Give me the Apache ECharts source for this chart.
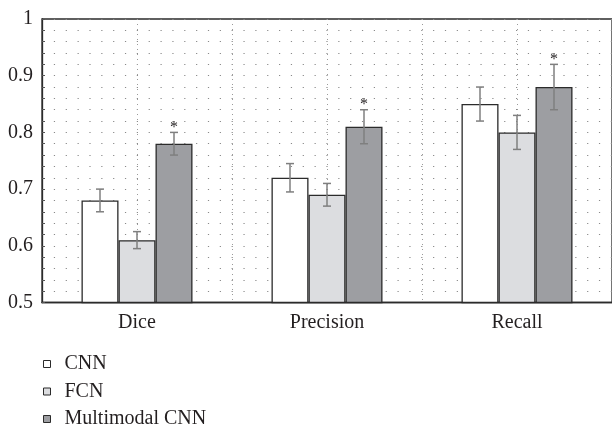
<!DOCTYPE html>
<html>
<head>
<meta charset="utf-8">
<script src="https://cdn.jsdelivr.net/npm/echarts@6/dist/echarts.min.js"></script>
<style>
html,body{margin:0;padding:0;background:#fff;}
#chart{width:612px;height:430px;}
</style>
</head>
<body>
<div id="chart"></div>
<script>
// ---- data ----
const categories = ['Dice', 'Precision', 'Recall'];
const seriesNames = ['CNN', 'FCN', 'Multimodal CNN'];
const cnnValues = [0.68, 0.72, 0.85];
const fcnValues = [0.61, 0.69, 0.80];
const mcnnValues = [0.78, 0.81, 0.88];
const cnnErrors = [0.02, 0.025, 0.03];
const fcnErrors = [0.015, 0.02, 0.03];
const mcnnErrors = [0.02, 0.03, 0.04];
const mcnnSignificant = [true, true, true];
const yMin = 0.5, yMax = 1, yStep = 0.1;

// ---- styling ----
const FONT = 'Liberation Serif';
const TEXT = '#231f20';
const BAR_W = 37;
const fills = ['#ffffff', '#dcdde0', '#9d9ea2'];
const values = [cnnValues, fcnValues, mcnnValues];
const errors = [cnnErrors, fcnErrors, mcnnErrors];

const barSeries = seriesNames.map((n, i) => ({
  name: n,
  type: 'bar',
  barWidth: BAR_W,
  barGap: '0%',
  data: values[i],
  itemStyle: { color: fills[i], borderColor: '#2b2b2b', borderWidth: 1.3 },
  z: 2
}));

function errSeries(k) {
  return {
    type: 'custom',
    name: 'err' + k,
    xAxisIndex: 0, yAxisIndex: 0,
    z: 5,
    silent: true,
    data: categories.map((c, i) => [i, values[k][i], errors[k][i], (k === 2 && mcnnSignificant[i]) ? 1 : 0]),
    renderItem: function (params, api) {
      const ci = api.value(0), v = api.value(1), e = api.value(2), star = api.value(3);
      const off = (k - 1) * BAR_W;
      const top = api.coord([ci, v + e]);
      const bot = api.coord([ci, v - e]);
      const x = top[0] + off;
      const st = { stroke: '#7f7f7f', lineWidth: 1.5 };
      const children = [
        { type: 'line', shape: { x1: x, y1: top[1], x2: x, y2: bot[1] }, style: st },
        { type: 'line', shape: { x1: x - 4, y1: top[1], x2: x + 4, y2: top[1] }, style: st },
        { type: 'line', shape: { x1: x - 4, y1: bot[1], x2: x + 4, y2: bot[1] }, style: st }
      ];
      if (star) {
        children.push({ type: 'text', style: { text: '*', x: x, y: top[1] - 5, align: 'center', verticalAlign: 'middle', font: '16px ' + FONT, fill: TEXT } });
      }
      return { type: 'group', children: children };
    }
  };
}

const chart = echarts.init(document.getElementById('chart'), null, { renderer: 'canvas' });
chart.setOption({
  animation: false,
  backgroundColor: '#ffffff',
  textStyle: { fontFamily: FONT, color: TEXT },
  grid: { left: 42, top: 19, width: 571, height: 283.5, show: true, borderColor: '#2b2b2b', borderWidth: 1.3, backgroundColor: 'transparent' },
  legend: {
    orient: 'vertical', left: 43, top: 354, height: 90, padding: 0,
    data: seriesNames,
    icon: 'rect', itemWidth: 7, itemHeight: 7, itemGap: 7.5,
    itemStyle: { borderColor: '#2b2b2b', borderWidth: 1 },
    textStyle: { fontFamily: FONT, fontSize: 20, color: TEXT, padding: [0, 0, 0, 9] }
  },
  xAxis: [
    {
      type: 'category', data: categories, gridIndex: 0,
      axisLine: { show: true, lineStyle: { color: '#2b2b2b', width: 1.3 } },
      axisTick: { show: false },
      axisLabel: { fontFamily: FONT, fontSize: 20, color: TEXT, margin: 10 },
      splitLine: { show: false }
    },
    {
      type: 'value', gridIndex: 0, min: 0, max: 6, interval: 1, position: 'bottom',
      axisLine: { show: false }, axisTick: { show: false }, axisLabel: { show: false },
      splitLine: { show: true, lineStyle: { color: '#9a9a9a', width: 1, type: [1, 4] } }
    }
  ],
  yAxis: {
    type: 'value', min: yMin, max: yMax, interval: yStep,
    axisLine: { show: true, lineStyle: { color: '#2b2b2b', width: 1.3 } },
    axisTick: { show: true, inside: true, length: 3, lineStyle: { color: '#555' } },
    minorTick: { show: true, splitNumber: 5, length: 3, lineStyle: { color: '#555' } },
    axisLabel: { fontFamily: FONT, fontSize: 20, color: TEXT, margin: 9,
      formatter: v => (Math.abs(v - 1) < 1e-9 ? '1' : v.toFixed(1)) },
    splitLine: { show: true, lineStyle: { color: '#8a8a8a', width: 1.2, type: [1.2, 10.65] } },
    minorSplitLine: { show: true, lineStyle: { color: '#8a8a8a', width: 1.2, type: [1.2, 10.65] } }
  },
  series: barSeries.concat([errSeries(0), errSeries(1), errSeries(2)])
});
</script>
</body>
</html>
